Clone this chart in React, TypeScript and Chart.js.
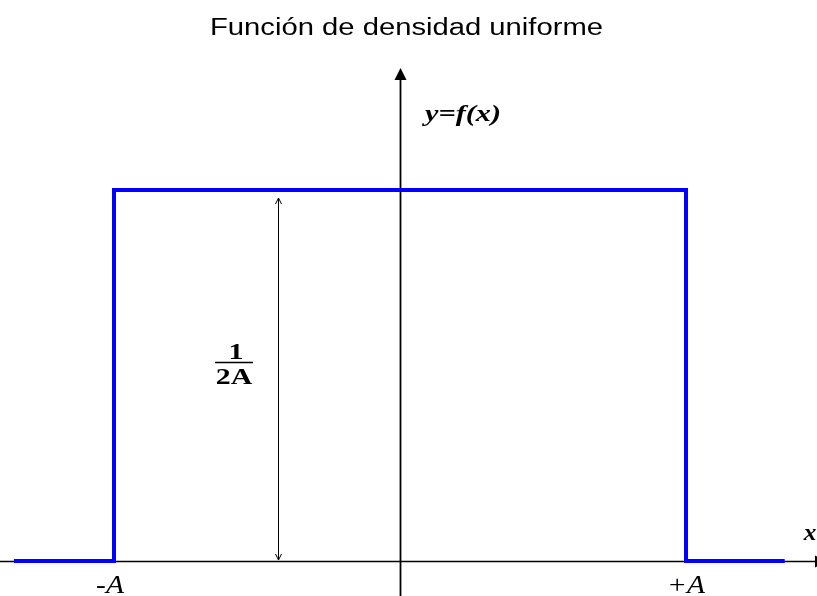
import React, { useEffect, useRef } from "react";
import { Chart, registerables } from "chart.js";

Chart.register(...registerables);

// Density f(x) for uniform distribution on [-A, +A], A = 1, height 1/(2A) = 0.5
const xValues = [-1.35, -1, -1, 1, 1, 1.345];
const yValues = [0, 0, 0.5, 0.5, 0, 0];
const tickLabels = ["-A", "+A"];
const tickPositions = [-1, 1];
const titleText = "Función de densidad uniforme";
const yAxisLabel = "y=f(x)";
const xAxisLabel = "x";
const heightNumerator = "1";
const heightDenominator = "2A";
const dimensionX = -0.427;

const X_MIN = -400 / 286;
const X_MAX = 417 / 286;
const Y_MIN = -35 / 742;
const Y_MAX = 561 / 742;

function wideText(ctx: any, text: string, x: number, y: number, sx: number) {
  ctx.save();
  ctx.translate(x, y);
  ctx.scale(sx, 1);
  ctx.fillText(text, 0, 0);
  ctx.restore();
}

const overlayPlugin = {
  id: "overlay",
  beforeDatasetsDraw(chart: any) {
    const ctx = chart.ctx;
    const xs = chart.scales.x;
    const ys = chart.scales.y;
    const x0 = Math.round(xs.getPixelForValue(0)) + 0.5;
    const y0 = Math.round(ys.getPixelForValue(0)) + 0.5;
    ctx.save();
    ctx.strokeStyle = "#000";
    ctx.fillStyle = "#000";
    // x axis
    ctx.lineWidth = 1.5;
    ctx.beginPath();
    ctx.moveTo(0, y0);
    ctx.lineTo(chart.width, y0);
    ctx.stroke();
    ctx.beginPath();
    ctx.moveTo(chart.width + 9, y0);
    ctx.lineTo(chart.width - 2, y0 - 6);
    ctx.lineTo(chart.width - 2, y0 + 6);
    ctx.closePath();
    ctx.fill();
    // y axis
    const yTop = 68;
    ctx.lineWidth = 1.8;
    ctx.beginPath();
    ctx.moveTo(x0, chart.height);
    ctx.lineTo(x0, yTop + 8);
    ctx.stroke();
    ctx.beginPath();
    ctx.moveTo(x0, yTop);
    ctx.lineTo(x0 - 6, yTop + 12);
    ctx.lineTo(x0 + 6, yTop + 12);
    ctx.closePath();
    ctx.fill();
    // dimension arrow
    const dx = Math.round(xs.getPixelForValue(dimensionX)) + 0.5;
    const dTop = ys.getPixelForValue(0.5) + 8;
    const dBot = ys.getPixelForValue(0) - 1;
    ctx.lineWidth = 1;
    ctx.beginPath();
    ctx.moveTo(dx, dTop);
    ctx.lineTo(dx, dBot);
    ctx.stroke();
    ctx.beginPath();
    ctx.moveTo(dx - 3, dTop + 6);
    ctx.lineTo(dx, dTop);
    ctx.lineTo(dx + 3, dTop + 6);
    ctx.moveTo(dx - 3, dBot - 6);
    ctx.lineTo(dx, dBot);
    ctx.lineTo(dx + 3, dBot - 6);
    ctx.stroke();
    // fraction label
    const fx = 234;
    const fy = 362;
    ctx.font = "bold 23px 'Liberation Serif', serif";
    ctx.textAlign = "center";
    ctx.textBaseline = "alphabetic";
    wideText(ctx, heightNumerator, fx + 2, fy - 3, 1.3);
    wideText(ctx, heightDenominator, fx, fy + 22, 1.3);
    ctx.lineWidth = 1.4;
    ctx.beginPath();
    ctx.moveTo(fx - 19, fy + 0.5);
    ctx.lineTo(fx + 19, fy + 0.5);
    ctx.stroke();
    // tick labels
    ctx.font = "italic 25px 'Liberation Serif', serif";
    tickPositions.forEach((v, i) => {
      const px = xs.getPixelForValue(v);
      wideText(ctx, tickLabels[i], px - (i === 0 ? 4 : 0), 593, 1.18);
    });
    // axis names
    ctx.font = "bold italic 24px 'Liberation Serif', serif";
    wideText(ctx, yAxisLabel, 463, 121, 1.26);
    ctx.font = "bold italic 23px 'Liberation Serif', serif";
    wideText(ctx, xAxisLabel, 810, 540, 1.1);
    // title
    ctx.font = "23px 'Liberation Sans', Arial, sans-serif";
    const w = ctx.measureText(titleText).width;
    wideText(ctx, titleText, 406.5, 35, 393 / w);
    ctx.restore();
  },
};

export default function App() {
  const ref = useRef<HTMLCanvasElement>(null);
  useEffect(() => {
    document.body.style.margin = "0";
    const canvas = ref.current!;
    const chart = new Chart(canvas, {
      type: "line",
      data: {
        datasets: [
          {
            data: xValues.map((x, i) => ({ x, y: yValues[i] })),
            borderColor: "#0000ff",
            borderWidth: 4,
            pointRadius: 0,
            tension: 0,
            fill: false,
            borderJoinStyle: "miter",
          } as any,
        ],
      },
      options: {
        animation: false,
        responsive: false,
        devicePixelRatio: 1,
        layout: { padding: 0 },
        plugins: {
          legend: { display: false },
          title: { display: false },
          tooltip: { enabled: false },
        },
        scales: {
          x: { type: "linear", min: X_MIN, max: X_MAX, display: false },
          y: { type: "linear", min: Y_MIN, max: Y_MAX, display: false },
        },
      },
      plugins: [overlayPlugin],
    });
    return () => chart.destroy();
  }, []);
  return (
    <div style={{ width: 817, height: 596, background: "#fff" }}>
      <canvas ref={ref} width={817} height={596} style={{ display: "block" }} />
    </div>
  );
}
